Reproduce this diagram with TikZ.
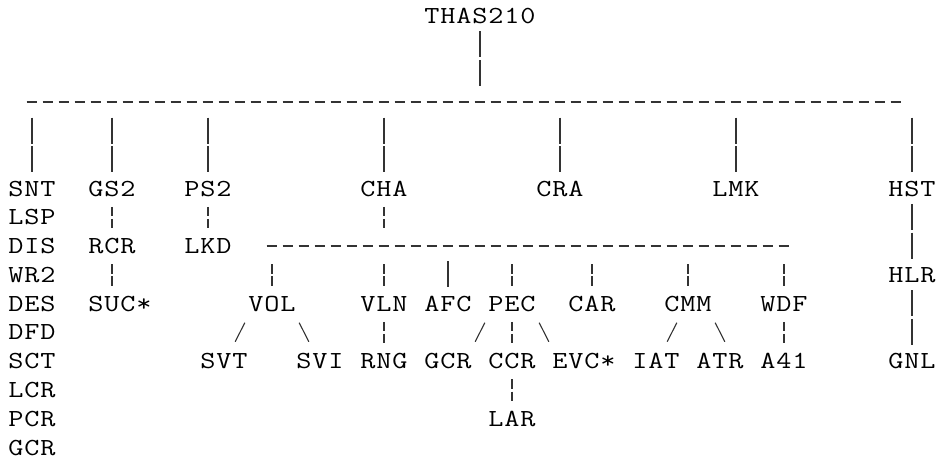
\documentclass[tikz,border=0pt]{standalone}
\usepackage{fontspec}
\usepackage{graphicx}
\usetikzlibrary{calc}
\newcommand\monoend{}
\newcommand\mono[1]{\monoloop#1\monoend}
\def\monoloop#1{\ifx#1\monoend\else\makebox[16pt][c]{\scalebox{1.2}[1]{#1}}\expandafter\monoloop\fi}
\begin{document}
\begin{tikzpicture}[x=16pt,y=-28.77pt,
  lbl/.style={inner sep=0pt,outer sep=0pt,anchor=base,font=\fontsize{24.5pt}{28pt}\selectfont\ttfamily},
  bar/.style={draw=black!80,line width=1.1pt},
  brk/.style={bar,dash pattern=on 9.2pt off 2.9pt},
  dashrow/.style={draw=black!80,line width=1.2pt,dash pattern=on 10.6pt off 5.4pt}]
\useasboundingbox (0,0) rectangle (58.5625,15.954);
\begin{scope}[yshift=1.5pt]
% labels
\node[lbl] (tha) at (30,0.869) {\mono{THAS210}};
\node[lbl] (snt) at (2,6.869) {\mono{SNT}};
\node[lbl] (gs2) at (7,6.869) {\mono{GS2}};
\node[lbl] (ps2) at (13,6.869) {\mono{PS2}};
\node[lbl] (cha) at (24,6.869) {\mono{CHA}};
\node[lbl] (cra) at (35,6.869) {\mono{CRA}};
\node[lbl] (lmk) at (46,6.869) {\mono{LMK}};
\node[lbl] (hst) at (57,6.869) {\mono{HST}};
\node[lbl] (lsp) at (2,7.869) {\mono{LSP}};
\node[lbl] (dis) at (2,8.869) {\mono{DIS}};
\node[lbl] (rcr) at (7,8.869) {\mono{RCR}};
\node[lbl] (lkd) at (13,8.869) {\mono{LKD}};
\node[lbl] (wr2) at (2,9.869) {\mono{WR2}};
\node[lbl] (hlr) at (57,9.869) {\mono{HLR}};
\node[lbl] (des) at (2,10.869) {\mono{DES}};
\node[lbl] (suc) at (7.5,10.869) {\mono{SUC*}};
\node[lbl] (vol) at (17,10.869) {\mono{VOL}};
\node[lbl] (vln) at (24,10.869) {\mono{VLN}};
\node[lbl] (afc) at (28,10.869) {\mono{AFC}};
\node[lbl] (pec) at (32,10.869) {\mono{PEC}};
\node[lbl] (car) at (37,10.869) {\mono{CAR}};
\node[lbl] (cmm) at (43,10.869) {\mono{CMM}};
\node[lbl] (wdf) at (49,10.869) {\mono{WDF}};
\node[lbl] (dfd) at (2,11.869) {\mono{DFD}};
\node[lbl] (sct) at (2,12.869) {\mono{SCT}};
\node[lbl] (svt) at (14,12.869) {\mono{SVT}};
\node[lbl] (svi) at (20,12.869) {\mono{SVI}};
\node[lbl] (rng) at (24,12.869) {\mono{RNG}};
\node[lbl] (gcrb) at (28,12.869) {\mono{GCR}};
\node[lbl] (ccr) at (32,12.869) {\mono{CCR}};
\node[lbl] (evc) at (36.5,12.869) {\mono{EVC*}};
\node[lbl] (iat) at (41,12.869) {\mono{IAT}};
\node[lbl] (atr) at (45,12.869) {\mono{ATR}};
\node[lbl] (a41) at (49,12.869) {\mono{A41}};
\node[lbl] (gnl) at (57,12.869) {\mono{GNL}};
\node[lbl] (lcr) at (2,13.869) {\mono{LCR}};
\node[lbl] (pcr) at (2,14.869) {\mono{PCR}};
\node[lbl] (lar) at (32,14.869) {\mono{LAR}};
\node[lbl] (gcra) at (2,15.869) {\mono{GCR}};
% root stem and main bus
\draw[bar] (tha |- 0,1.14) -- (tha |- 0,2.04);
\draw[bar] (tha |- 0,2.14) -- (tha |- 0,3.04);
\draw[dashrow] ($(snt |- 0,3.6)+(-0.33,0)$) -- ($(hst |- 0,3.6)+(-0.67,0)$);
\foreach \n in {snt,gs2,ps2,cha,cra,lmk,hst}{
  \draw[bar] (\n |- 0,4.14) -- (\n |- 0,5.04);
  \draw[bar] (\n |- 0,5.14) -- (\n |- 0,6.04);
}
% second level
\draw[brk] (gs2 |- 0,7.24) -- (gs2 |- 0,7.98);
\draw[brk] (rcr |- 0,9.24) -- (rcr |- 0,9.98);
\draw[brk] (ps2 |- 0,7.24) -- (ps2 |- 0,7.98);
\draw[brk] (cha |- 0,7.24) -- (cha |- 0,7.98);
\draw[bar] (hst |- 0,7.14) -- (hst |- 0,8.04);
\draw[bar] (hst |- 0,8.14) -- (hst |- 0,9.04);
\draw[bar] (hlr |- 0,10.14) -- (hlr |- 0,11.04);
\draw[bar] (hlr |- 0,11.14) -- (hlr |- 0,12.04);
\draw[dashrow] ($(vol |- 0,8.6)+(-0.33,0)$) -- ($(wdf |- 0,8.6)+(0.33,0)$);
\foreach \n in {vol,vln,pec,car,cmm,wdf}{
  \draw[brk] (\n |- 0,9.24) -- (\n |- 0,9.98);
}
\draw[bar] (afc |- 0,9.14) -- (afc |- 0,10.04);
% third level
\draw[bar] ($(vol |- 0,11.93)+(-2.3,0)$) -- ($(vol |- 0,11.27)+(-1.7,0)$);
\draw[bar] ($(vol |- 0,11.27)+(1.7,0)$) -- ($(vol |- 0,11.93)+(2.3,0)$);
\draw[brk] (vln |- 0,11.24) -- (vln |- 0,11.98);
\draw[bar] ($(pec |- 0,11.93)+(-2.3,0)$) -- ($(pec |- 0,11.27)+(-1.7,0)$);
\draw[brk] (pec |- 0,11.24) -- (pec |- 0,11.98);
\draw[bar] ($(pec |- 0,11.27)+(1.7,0)$) -- ($(pec |- 0,11.93)+(2.3,0)$);
\draw[bar] ($(cmm |- 0,11.93)+(-1.3,0)$) -- ($(cmm |- 0,11.27)+(-0.7,0)$);
\draw[bar] ($(cmm |- 0,11.27)+(1.7,0)$) -- ($(cmm |- 0,11.93)+(2.3,0)$);
\draw[brk] (wdf |- 0,11.24) -- (wdf |- 0,11.98);
\draw[brk] (ccr |- 0,13.24) -- (ccr |- 0,13.98);
\end{scope}
\end{tikzpicture}
\end{document}
